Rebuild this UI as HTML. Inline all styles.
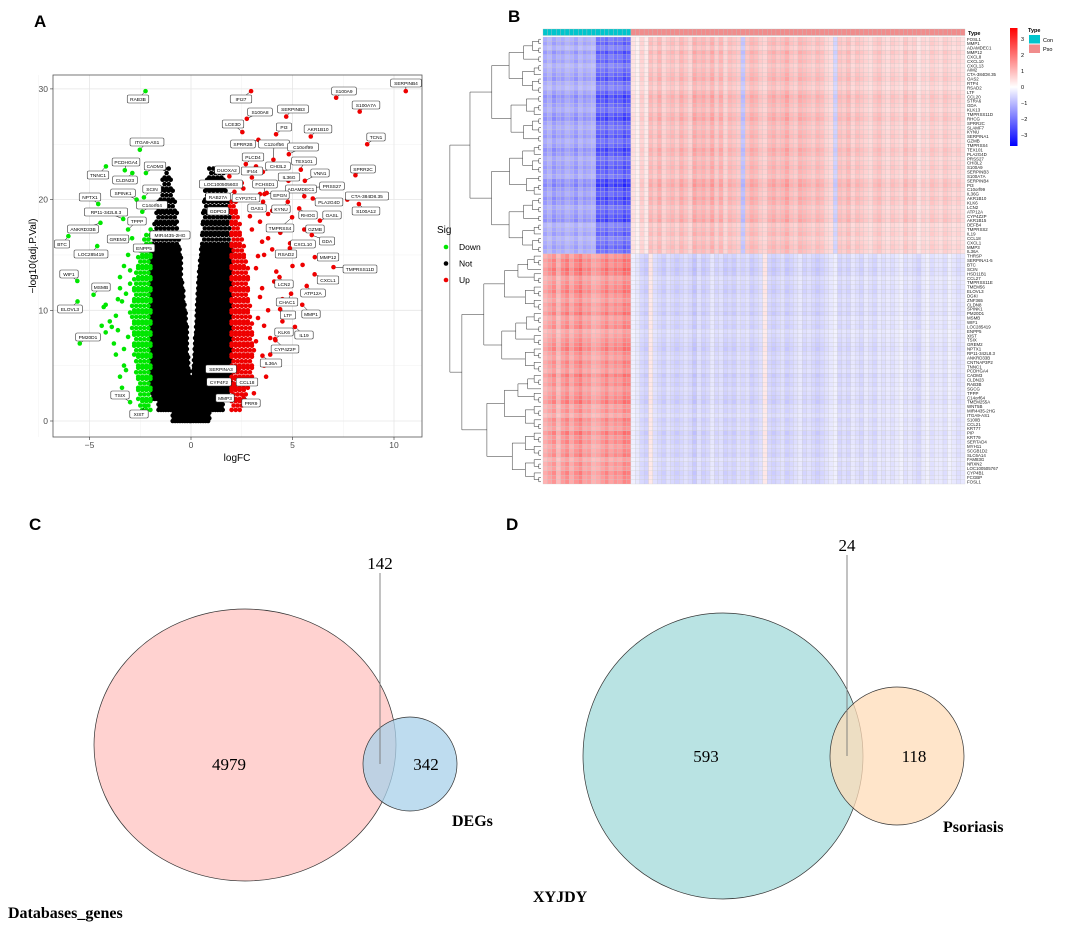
<!DOCTYPE html>
<html><head><meta charset="utf-8"><style>
html,body{margin:0;padding:0;background:#fff;}
svg{display:block;font-family:"Liberation Sans",sans-serif;}
.serif{font-family:"Liberation Serif",serif;}
</style></head><body>
<svg id="fig" width="1065" height="927" viewBox="0 0 1065 927" xmlns="http://www.w3.org/2000/svg">
<text x="34" y="27" font-size="17" font-weight="bold">A</text>
<text x="508" y="22" font-size="17" font-weight="bold">B</text>
<text x="29" y="530" font-size="17" font-weight="bold">C</text>
<text x="506" y="530" font-size="17" font-weight="bold">D</text>
<g id="volcano"></g>
<g id="heat"></g>
<g id="venn"></g>
</svg>
<script>
// ---------- Volcano data ----------
const notYLevels=[0,1,2,3,4,5,6,7,8,9,10,11,12,13,14,15,16,17,18,19,20,21,22];
const notLeftMin=[-0.9,-1.6,-1.9,-2,-2,-2,-2,-2,-2,-2,-2,-2,-2,-2,-2,-2,-1.9,-1.8,-1.7,-1.6,-1.5,-1.4,-1.3];
const notLeftMax=[0,0,0,0,-0.05,-0.1,-0.15,-0.18,-0.2,-0.25,-0.3,-0.35,-0.4,-0.45,-0.5,-0.55,-0.6,-0.65,-0.7,-0.8,-0.9,-1.0,-1.1];
const notRightMin=[0,0,0,0.05,0.1,0.15,0.18,0.2,0.25,0.28,0.3,0.33,0.36,0.4,0.45,0.5,0.55,0.58,0.6,0.65,0.7,0.8,0.9];
const notRightMax=[0.9,1.6,1.9,2,2,2,2,2,2,2,2,2,2,2,2,2,1.95,1.9,1.9,1.85,1.8,1.7,1.6];
const downYLevels=[1,2,3,4,5,6,7,8,9,10,11,12,13,14,15,16];
const downMin=[-2.5,-2.6,-2.6,-2.7,-2.7,-2.8,-2.8,-2.9,-2.9,-2.9,-2.8,-2.8,-2.7,-2.6,-2.5,-2.3];
const upYLevels=[1,2,3,4,5,6,7,8,9,10,11,12,13,14,15,16,17,18,19];
const upMax=[2.5,2.7,2.9,3.0,3.0,3.1,3.0,3.0,2.9,2.9,2.8,2.8,2.8,2.7,2.6,2.5,2.4,2.3,2.2];
const downScatter=[[-3.5,4],[-3.3,5],[-4.2,8],[-3.9,8.5],[-3.7,9.5],[-4.3,10.3],[-3.6,11],[-3.5,13],[-3.3,14],[-4.2,10.5],[-3.8,7],[-3.3,6.5],[-4.0,9],[-3.5,12],[-3.7,6],[-3.4,3],[-2.9,16.5],[-3.1,15],[-3.2,11.5],[-3.0,9.8],[-3.1,7.6],[-3.6,8.2],[-3.4,10.8],[-3.0,13.6],[-3.2,4.6],[-4.4,8.6],[-3.0,12.4]];
const upScatter=[[3.6,5],[3.9,7.5],[4.5,9],[3.8,10],[4.5,11],[4.8,12.2],[4.2,13.5],[5.0,14],[5.5,14.1],[3.6,15],[3.8,16.5],[4.4,17],[3.4,18],[4.0,19],[3.4,20.5],[3.0,22],[3.2,23],[2.5,21.5],[3.9,6],[4.3,8],[3.5,12],[4.0,15.5],[2.6,20],[2.9,18.5],[3.7,4],[3.1,2.5],[3.3,9.3],[3.4,11.2],[3.2,13.8],[3.5,16.2],[3.2,7.2],[3.6,8.6],[4.1,12.6],[3.3,14.9],[3.0,17.3],[3.8,18.7]];
const labName=["RAB3B","IFI27","S100A9","SERPINB4","S100A7A","S100A8","SERPINB3","LCE3D","PI3","AKR1B10","TCN1","SPRR2B","C12orf56","C10orf99","ITGA9-AS1","PLCD4","TEX101","PCDHGA4","CADM3","TNNC1","CLDN23","CHI3L2","DUOXA2","IFI44","IL36G","VNN1","SPRR2C","PRSS27","LOC100505603","FCHSD1","SCIN","SPINK1","C14orf64","ADAMDEC1","EPGN","RAB27A","CYP27C1","CTA-384D8.35","PLA2G4D","NPTX1","GDPD3","OAS1","KYNU","S100A12","RP11-342L8.3","RHOG","OASL","TPPP","TMPRSS4","GZMB","ANKRD33B","GREM2","MIR4435-2HG","GDA","BTC","CXCL10","LOC285419","ENPP5","RSAD2","MMP12","TMPRSS11D","WIF1","CXCL1","MSMB","LCN2","ATP12A","ELOVL3","CHAC1","MMP1","LTF","KLK6","IL19","PM20D1","CYP4Z2P","IL36A","SERPINA3","CYP4F2","CCL18","MMP3","PRR9","TSIX","XIST"];
const labFC=[-2.24,2.96,7.15,10.58,8.31,2.75,4.69,2.53,4.19,5.9,8.68,3.32,4.06,4.82,-2.52,2.7,5.41,-3.26,-2.22,-4.19,-2.89,3.52,1.89,3.54,4.8,5.61,8.1,6.05,2.58,3.62,-2.32,-2.68,-2.4,5.58,3.73,2.14,2.24,7.7,6.0,-4.57,1.92,3.55,4.77,8.27,-3.34,5.33,6.35,-3.1,4.98,5.58,-4.46,-3.14,-1.99,5.95,-6.04,4.88,-4.62,-2.55,4.87,6.1,7.02,-5.6,6.09,-4.8,4.36,5.7,-5.59,4.93,5.48,4.39,4.14,5.12,-5.48,4.16,3.52,2.34,2.09,2.12,2.0,2.58,-3.0,-2.24];
const labP=[29.8,29.8,29.2,29.8,27.95,27.3,27.5,26.1,25.9,25.7,25.0,25.4,23.6,24.1,24.5,23.2,22.7,22.65,22.4,23.0,22.4,22.5,22.1,22.5,21.7,21.7,22.2,21.1,21.0,20.5,20.2,20.0,18.9,20.3,20.6,20.7,19.9,20.0,20.1,19.6,19.4,19.8,19.8,19.6,18.25,19.2,18.1,17.3,18.4,17.3,17.9,16.4,17.3,16.8,16.7,16.05,15.8,15.75,15.6,14.8,13.9,12.65,13.25,11.4,13.0,12.2,10.8,11.5,10.5,10.1,7.4,8.5,7.0,7.3,5.9,4.7,3.1,3.25,2.7,2.3,1.7,1.35];
const labBoxX=[138,241,344,406,366,260,293,233,284,318,376,243,274,303,147,253,304,126,155,98,125,278,227,252,289,320,363,332,221,265,152,123,152,301,280,218,246,367,329,90,218,257,281,366,106,308,332,137,280,315,83,118,170,327,62,303,91,144,286,328,360,69,328,101,284,313,70,287,311,288,284,304,88,285,271,221,219,247,225,251,120,139];
const labBoxY=[99,99,91,83,105,112,109,124,127,129,137,144,144,147,142,157,161,162,166,175,180,166,170,171,177,173,169,186,184,184,189,193,205,189,195,197,198,196,202,197,211,208,209,211,212,215,215,221,228,229,229,239,235,241,244,244,254,248,254,257,269,274,280,287,284,293,309,302,314,315,332,335,337,349,363,369,382,382,398,403,395,414];
const xTicks=[-5,0,5,10], yTicks=[0,10,20,30];
const sigLabels=["Down","Not","Up"];

// ---------- Heatmap data ----------
const colUp=[-1.2,-1.0,-1.3,-1.1,-1.2,-1.0,-1.1,-1.3,-1.0,-1.2,-1.1,-1.0,-2.0,-1.9,-2.1,-1.8,-2.0,-1.9,-2.2,-2.0,
0.4,0.2,0.6,0.3,0.9,0.7,1.0,0.6,0.8,0.9,0.7,1.0,0.8,0.6,1.1,0.9,1.0,0.8,1.1,0.7,1.0,0.6,0.9,0.8,0.7,-0.8,0.8,1.0,0.9,0.7,0.6,0.9,1.0,0.8,0.9,1.1,0.8,0.7,1.0,0.9,0.8,0.7,0.9,0.8,0.6,0.5,-0.6,0.8,0.7,0.9,0.6,0.8,0.7,0.6,0.5,0.7,0.8,0.6,0.5,0.7,0.6,0.5,0.8,0.6,0.7,0.4,0.6,0.5,0.7,0.6,0.5,0.7,0.6,0.5,0.6,0.4];
const colDown=[1.0,1.2,1.4,0.9,1.3,1.5,1.1,1.4,1.6,1.2,1.3,1.0,1.1,1.3,1.5,1.2,1.4,1.3,1.6,1.5,
-0.2,-0.3,-0.5,-0.6,0.3,-0.4,-0.5,-0.6,-0.4,-0.5,-0.6,-0.5,-0.4,-0.5,-0.7,-0.4,-0.6,-0.5,-0.3,-0.5,-0.4,-0.6,-0.5,-0.6,-0.4,-0.5,-0.4,-0.6,-0.5,-0.4,0.3,-0.5,-0.6,-0.5,-0.4,-0.6,-0.5,-0.4,-0.3,-0.5,-0.4,-0.5,-0.6,-0.5,-0.4,-0.3,-0.2,-0.5,-0.4,-0.5,-0.3,-0.4,-0.5,-0.3,-0.4,-0.5,-0.3,-0.4,-0.3,-0.4,-0.3,-0.2,-0.4,-0.3,-0.4,-0.5,-0.3,-0.2,-0.4,-0.3,-0.3,-0.4,-0.2,-0.3,-0.4,-0.3];
const rowScale=[0.9,1.0,0.8,1.1,0.9,1.0,0.8,0.9,1.0,1.1,0.9,0.8,1.0,1.2,1.1,1.0,0.9,1.1,1.2,1.0,0.9,1.0,1.1,0.9,1.0,1.2,1.1,0.9,1.0,1.1,1.0,0.9,1.2,1.3,1.1,1.0,1.2,1.1,0.9,1.0,1.1,1.2,0.8,0.9,1.0,0.8,0.9,1.0,0.9,
1.0,1.2,1.1,1.3,1.2,0.9,1.0,1.1,1.2,1.0,0.9,1.1,1.0,1.2,0.9,1.0,1.1,0.8,0.9,1.0,1.1,1.2,1.0,0.9,1.1,1.0,0.9,1.2,1.0,1.1,0.9,1.0,1.1,1.2,0.9,1.0,0.8,1.1,1.0,0.9,1.2,1.0,1.1,0.9,1.0,1.1,0.8,1.0,0.9,1.1,1.0,1.0];
const upperRows=49;
const geneBase=["FOSL1","MMP1","ADAMDEC1","MMP12","CXCL8","CXCL10","CXCL13","AIM2","CTA-384D8.35","OAS2","RTP4","RSAD2","LTF","CCL20","STRA6","GDA","KLK13","TMPRSS11D","RHCG","SPRR2C","SLAMF7","KYNU","SERPINA1","GZMB","TMPRSS4","TEX101","PLA2G4D","PRSS27","CHI3L2","S100A9","SERPINB3","S100A7A","SERPINB4","PI3","C10orf99","IL36G","AKR1B10","KLK6","LCN2","ATP12A","CYP4Z2P","AKR1B15","DEFB4","TMPRSS2","IL19","CCL18","CXCL1","MMP3","IL36A",
"THRSP","SERPINA1-5","BTC","SCIN","HSD11B1","CCL27","TMPRSS11E","TMEM56","ELOVL3","DGKI","ZNF365","CLDN8","SPINK1","PM20D1","MSMB","WIF1","LOC285419","ENPP5","XIST","TSIX","GREM2","NPTX1","RP11-342L8.3","ANKRD33B","CNTNAP3P2","TNNC1","PCDHGA4","CADM3","CLDN23","RAB3B","SGCG","TPPP","C14orf64","TMEM255A","WNT5B","MIR4435-2HG","ITGA9-AS1","S100B","CCL21","KRT77","PIP","KRT79","SERTAD4","MYH11","SCGB1D2","SLC6A14","FAM83G","NRXN2","LOC100505767","CYP4B1","FCGBP"];
</script>
<script>
const NS="http://www.w3.org/2000/svg";
function mk(tag,attrs,parent,text){const e=document.createElementNS(NS,tag);for(const k in attrs)e.setAttribute(k,attrs[k]);if(text!==undefined)e.textContent=text;parent.appendChild(e);return e;}

// ================= Volcano =================
(function(){
const g=document.getElementById('volcano');
const L=53,R=422,T=75,B=437;
const sx=v=>191+20.3*v, sy=v=>421-11.07*v;
mk('rect',{x:L,y:T,width:R-L,height:B-T,fill:'#fff',stroke:'none'},g);
const grid=mk('g',{},g);


[-7.5,-2.5,2.5,7.5].forEach(v=>mk('line',{x1:sx(v),x2:sx(v),y1:T,y2:B,stroke:'#f2f2f2','stroke-width':0.5},grid));
[5,15,25].forEach(v=>mk('line',{x1:L,x2:R,y1:sy(v),y2:sy(v),stroke:'#f2f2f2','stroke-width':0.5},grid));
xTicks.forEach(v=>mk('line',{x1:sx(v),x2:sx(v),y1:T,y2:B,stroke:'#e6e6e6','stroke-width':0.8},grid));
yTicks.forEach(v=>mk('line',{x1:L,x2:R,y1:sy(v),y2:sy(v),stroke:'#e6e6e6','stroke-width':0.8},grid));
const pts=mk('g',{},g);


function dot(x,y,c){mk('circle',{cx:sx(x).toFixed(1),cy:sy(y).toFixed(1),r:2.3,fill:c},pts);}
// Not significant (black)
for(let i=0;i<notYLevels.length;i++){
  const y0=notYLevels[i];const sparse=y0>=16;
  const dy=sparse?0.4:0.25, dx=sparse?0.2:0.12;
  let k=0;
  for(let y=y0;y<y0+1-1e-6;y+=dy,k++){
    const off=(k%2)*dx/2;
    for(let x=notLeftMin[i]+off;x<=notLeftMax[i]+1e-6;x+=dx)dot(x,y,'#000');
    for(let x=notRightMin[i]+off;x<=notRightMax[i]+1e-6;x+=dx)dot(x,y,'#000');
  }
}
// Down (green)
for(let i=0;i<downYLevels.length;i++){
  const y0=downYLevels[i];let k=0;
  for(let y=y0;y<y0+1-1e-6;y+=0.4,k++){
    for(let x=-2.0-(k%2)*0.1;x>=downMin[i]-1e-6;x-=0.2)dot(x,y,'#00e600');
  }
}
downScatter.forEach(p=>dot(p[0],p[1],'#00e600'));
// Up (red)
for(let i=0;i<upYLevels.length;i++){
  const y0=upYLevels[i];let k=0;
  for(let y=y0;y<y0+1-1e-6;y+=0.4,k++){
    for(let x=2.0+(k%2)*0.1;x<=upMax[i]+1e-6;x+=0.2)dot(x,y,'#ee0000');
  }
}
upScatter.forEach(p=>dot(p[0],p[1],'#ee0000'));
// labelled genes
const lg=mk('g',{},g);


for(let i=0;i<labName.length;i++){
  const c=labFC[i]<0?'#00e600':'#ee0000';
  const px=sx(labFC[i]),py=sy(labP[i]);
  mk('line',{x1:px,y1:py,x2:labBoxX[i],y2:labBoxY[i],stroke:'#000','stroke-width':0.5},lg);
  mk('circle',{cx:px,cy:py,r:2.3,fill:c},lg);
  const w=labName[i].length*3.1+6;
  const r=mk('rect',{x:labBoxX[i]-w/2,y:labBoxY[i]-4,width:w,height:8,rx:1.5,fill:'#fff',stroke:'#333','stroke-width':0.6},lg);
  
  
  mk('text',{x:labBoxX[i],y:labBoxY[i]+1.8,'font-size':4.8,'text-anchor':'middle',fill:'#000'},lg,labName[i]);
}
mk('rect',{x:L,y:T,width:R-L,height:B-T,fill:'none',stroke:'#555','stroke-width':0.8},g);
const ax=mk('g',{},g);


xTicks.forEach(v=>{mk('line',{x1:sx(v),x2:sx(v),y1:B,y2:B+3,stroke:'#333','stroke-width':0.6},ax);mk('text',{x:sx(v),y:B+11,'font-size':8.5,'text-anchor':'middle',fill:'#4d4d4d'},ax,String(v).replace('-','−'));});
const ay=mk('g',{},g);


yTicks.forEach(v=>{mk('line',{x1:L-3,x2:L,y1:sy(v),y2:sy(v),stroke:'#333','stroke-width':0.6},ay);mk('text',{x:L-5,y:sy(v)+3,'font-size':8.5,'text-anchor':'end',fill:'#4d4d4d'},ay,String(v));});
const xt=mk('text',{x:237,y:461,'font-size':10,'text-anchor':'middle'},g,'logFC');


const yt=mk('text',{x:0,y:0,'font-size':10,'text-anchor':'middle',transform:'translate(36,256) rotate(-90)'},g,'−log10(adj.P.Val)');


const lgd=mk('g',{},g);


mk('text',{x:437,y:233,'font-size':10},lgd,'Sig');
const lc=['#00e600','#000','#ee0000'];
sigLabels.forEach((s,i)=>{const e=mk('g',{},lgd);


mk('circle',{cx:446,cy:247+i*16.5,r:2.3,fill:lc[i]},e);mk('text',{x:459,y:250+i*16.5,'font-size':8.5},e,s);});
})();

// ================= Heatmap =================
(function(){
const g=document.getElementById('heat');
const X0=543,X1=965,Y0=37,Y1=484;
const nC=colUp.length,nR=rowScale.length;
const cw=(X1-X0)/nC, rh=(Y1-Y0)/nR;
function col(v){v=Math.max(-3.3,Math.min(3.3,v));const t=Math.abs(v)/3.3;
 if(v>=0){const k=Math.round(255*(1-t));return `rgb(255,${k},${k})`;}
 const k=Math.round(255*(1-t));return `rgb(${k},${k},255)`;}
for(let c=0;c<nC;c++){const r=mk('rect',{x:X0+c*cw,y:29,width:cw,height:6.5,fill:c<20?'#00c5cd':'#f08c8c',stroke:'#bbb','stroke-width':0.3},g);

}
mk('text',{x:968,y:35,'font-size':5.5,'font-weight':'bold'},g,'Type');
const cells=mk('g',{},g);


for(let r=0;r<nR;r++){
  const prof=r<upperRows?colUp:colDown;
  for(let c=0;c<nC;c++){
    const v=prof[c]*rowScale[r];
    mk('rect',{x:(X0+c*cw).toFixed(2),y:(Y0+r*rh).toFixed(2),width:cw.toFixed(2),height:rh.toFixed(2),fill:col(v),stroke:'#c8c8c8','stroke-width':0.25},cells);
  }
}
const lab=mk('g',{},g);


for(let r=0;r<nR;r++)mk('text',{x:967,y:(Y0+r*rh+rh*0.85).toFixed(2),'font-size':4.4,fill:'#222'},lab,geneBase[r%geneBase.length]);
const dg=mk('g',{},g);


function tree(lo,hi){
  if(hi-lo===1)return {x:541,y:Y0+lo*rh+rh/2};
  let mid=(lo===0&&hi===nR)?upperRows:Math.floor((lo+hi)/2)+((lo*7+hi)%3===0?1:0);
  if(mid<=lo)mid=lo+1;if(mid>=hi)mid=hi-1;
  const a=tree(lo,mid),b=tree(mid,hi);
  const n=hi-lo;
  const x=Math.min(a.x,b.x)-(n===nR?12:Math.max(1.2,4.2*Math.log2(n)-2));
  mk('path',{d:`M${a.x},${a.y}H${x}V${b.y}H${b.x}`,fill:'none',stroke:'#333','stroke-width':0.5},dg);
  return {x:x,y:(a.y+b.y)/2};
}
tree(0,nR);
const defs=mk('defs',{},g);
const lgr=mk('linearGradient',{id:'hg',x1:0,y1:0,x2:0,y2:1},defs);
[['0%','#ff0000'],['50%','#ffffff'],['100%','#0000ff']].forEach(s=>mk('stop',{offset:s[0],'stop-color':s[1]},lgr));
const cl=mk('g',{},g);


mk('rect',{x:1010,y:28,width:7.5,height:118,fill:'url(#hg)'},cl);
[3,2,1,0,-1,-2,-3].forEach((v,i)=>mk('text',{x:1021,y:41+i*16,'font-size':5.5},cl,String(v).replace('-','−')));
const tl=mk('g',{},g);


mk('text',{x:1028,y:32,'font-size':5.5,'font-weight':'bold'},tl,'Type');
mk('rect',{x:1029,y:35,width:11,height:8.5,fill:'#00c5cd'},tl);
mk('text',{x:1043,y:42,'font-size':5.5},tl,'Con');
mk('rect',{x:1029,y:44.5,width:11,height:8.5,fill:'#f08c8c'},tl);
mk('text',{x:1043,y:51,'font-size':5.5},tl,'Pso');
})();

// ================= Venn =================
(function(){
const g=document.getElementById('venn');
function venn(name,big,small,bigFill,smallFill,nums,labels){
  const v=mk('g',{},g);
  
  
  const c1=mk('ellipse',{cx:big[0],cy:big[1],rx:big[2],ry:big[3],fill:bigFill,stroke:'#333','stroke-width':0.7},v);
  
  
  const c2=mk('ellipse',{cx:small[0],cy:small[1],rx:small[2],ry:small[3],fill:smallFill,'fill-opacity':0.75,stroke:'#333','stroke-width':0.7},v);
  
  
  mk('line',{x1:nums[2][1],y1:nums[2][2]+4,x2:nums[2][1],y2:small[1],stroke:'#777','stroke-width':0.9},v);
  nums.forEach(n=>mk('text',{x:n[1],y:n[2],'font-size':17,'text-anchor':'middle',class:'serif'},v,n[0]));
  labels.forEach(l=>mk('text',{x:l[1],y:l[2],'font-size':16,'font-weight':'bold',class:'serif'},v,l[0]));
}
venn('venn-c',[245,745,151,136],[410,764,47,47],'#ffd2d0','#a8d0ea',
  [['4979',229,770],['342',426,770],['142',380,569]],[['DEGs',452,826],['Databases_genes',8,918]]);
venn('venn-d',[723,756,140,143],[897,756,67,69],'#b9e3e3','#ffdcb8',
  [['593',706,762],['118',914,762],['24',847,551]],[['Psoriasis',943,832],['XYJDY',533,902]]);
})();
</script>
</body></html>
